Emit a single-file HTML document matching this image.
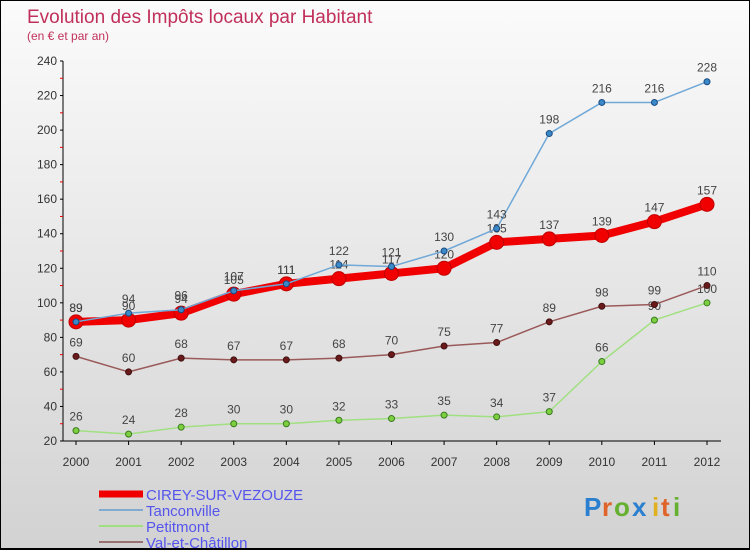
<!DOCTYPE html>
<html><head><meta charset="utf-8"><style>
body{margin:0}
#c{width:750px;height:550px;position:relative;box-sizing:border-box;border:1px solid #000;border-bottom:2px solid #000;background:linear-gradient(#fbfbfb,#d2d2d2);font-family:"Liberation Sans",sans-serif;overflow:hidden}
</style></head><body>
<div id="c">
<svg id="s" width="750" height="550" style="position:absolute;left:0;top:0">
<text x="26" y="22" font-size="19" fill="#c0305a">Evolution des Impôts locaux par Habitant</text>
<text x="26" y="39" font-size="12" fill="#c0305a">(en € et par an)</text>
<g id="axes"></g><g id="series"></g><g id="legend"></g>
<g font-size="26" font-weight="bold">
<text x="583" y="515" fill="#2a7fd0">P</text><text x="601" y="515" fill="#e0632a">r</text><text x="613" y="515" fill="#66b030">o</text><text x="631" y="515" fill="#2a7fd0">x</text><text x="651" y="515" fill="#e0b020">i</text><text x="660" y="515" fill="#e0632a">t</text><text x="672" y="515" fill="#66b030">i</text>
</g>
</svg>
</div>
<script>
const years=[2000,2001,2002,2003,2004,2005,2006,2007,2008,2009,2010,2011,2012];
const yTicks=[20,40,60,80,100,120,140,160,180,200,220,240];
const cirey=[89,90,94,105,111,114,117,120,135,137,139,147,157];
const tanconville=[89,94,96,107,111,122,121,130,143,198,216,216,228];
const petitmont=[26,24,28,30,30,32,33,35,34,37,66,90,100];
const valChatillon=[69,60,68,67,67,68,70,75,77,89,98,99,110];
const NS='http://www.w3.org/2000/svg';
const X=i=>75+i*(706-75)/12;
const Y=v=>440-(v-20)*380/220;
function mk(tag,attrs,parent){const e=document.createElementNS(NS,tag);for(const k in attrs)e.setAttribute(k,attrs[k]);parent.appendChild(e);return e;}
const ax=document.getElementById('axes');
let a=mk('line',{x1:62,y1:Y(240),x2:62,y2:440,stroke:'#000'},ax);


a=mk('line',{x1:62,y1:440,x2:720,y2:440,stroke:'#000'},ax);


yTicks.forEach(v=>{
 mk('line',{x1:59,y1:Y(v),x2:62,y2:Y(v),stroke:'#000'},ax);
 if(v<240)mk('line',{x1:59,y1:Y(v+10),x2:62,y2:Y(v+10),stroke:'#e00'},ax);
 const t=mk('text',{x:56,y:Y(v)+4,'text-anchor':'end','font-size':12,fill:'#333'},ax);t.textContent=v;
 
 
});
years.forEach((y,i)=>{
 mk('line',{x1:X(i),y1:440,x2:X(i),y2:444,stroke:'#000'},ax);
 const t=mk('text',{x:X(i),y:465,'text-anchor':'middle','font-size':12,fill:'#333'},ax);t.textContent=y;
 
 
});
const sg=document.getElementById('series');
function series(data,name,color,dot,w,r,dr){
 const g=mk('g',{},sg);
 
 
 const p=mk('polyline',{points:data.map((v,i)=>X(i)+','+Y(v)).join(' '),fill:'none',stroke:color,'stroke-width':w,'stroke-linejoin':'round'},g);
 
 
 data.forEach((v,i)=>{
  const c=mk('circle',{cx:X(i),cy:Y(v),r:r,fill:dot,stroke:dr,'stroke-width':1},g);
  
  
  const t=mk('text',{x:X(i),y:Y(v)-10,'text-anchor':'middle','font-size':12,fill:'#444'},g);t.textContent=v;
  
  
 });
}
series(petitmont,'petitmont','#a0e080','#7cd040',1.5,3,'#3a7a20');
series(valChatillon,'val-et-chatillon','#9a5a5a','#6a1a1a',1.5,3,'#401010');
series(cirey,'cirey-sur-vezouze','#f00000','#f00000',8,7,'#c00000');
series(tanconville,'tanconville','#70a8d8','#3a88c8',1.5,3,'#1a4a80');
const lg=document.getElementById('legend');
const items=[['CIREY-SUR-VEZOUZE','#f00000',7],['Tanconville','#80aad0',2],['Petitmont','#a0e080',2],['Val-et-Châtillon','#9a7070',2]];
items.forEach((it,k)=>{
 const y=493+k*16;
 const g=mk('g',{},lg);
 
 
 mk('line',{x1:98,y1:y,x2:142,y2:y,stroke:it[1],'stroke-width':it[2]},g);
 const t=mk('text',{x:145,y:y+6,'font-size':15,fill:'#5555ee'},g);t.textContent=it[0];
});
</script>
</body></html>
